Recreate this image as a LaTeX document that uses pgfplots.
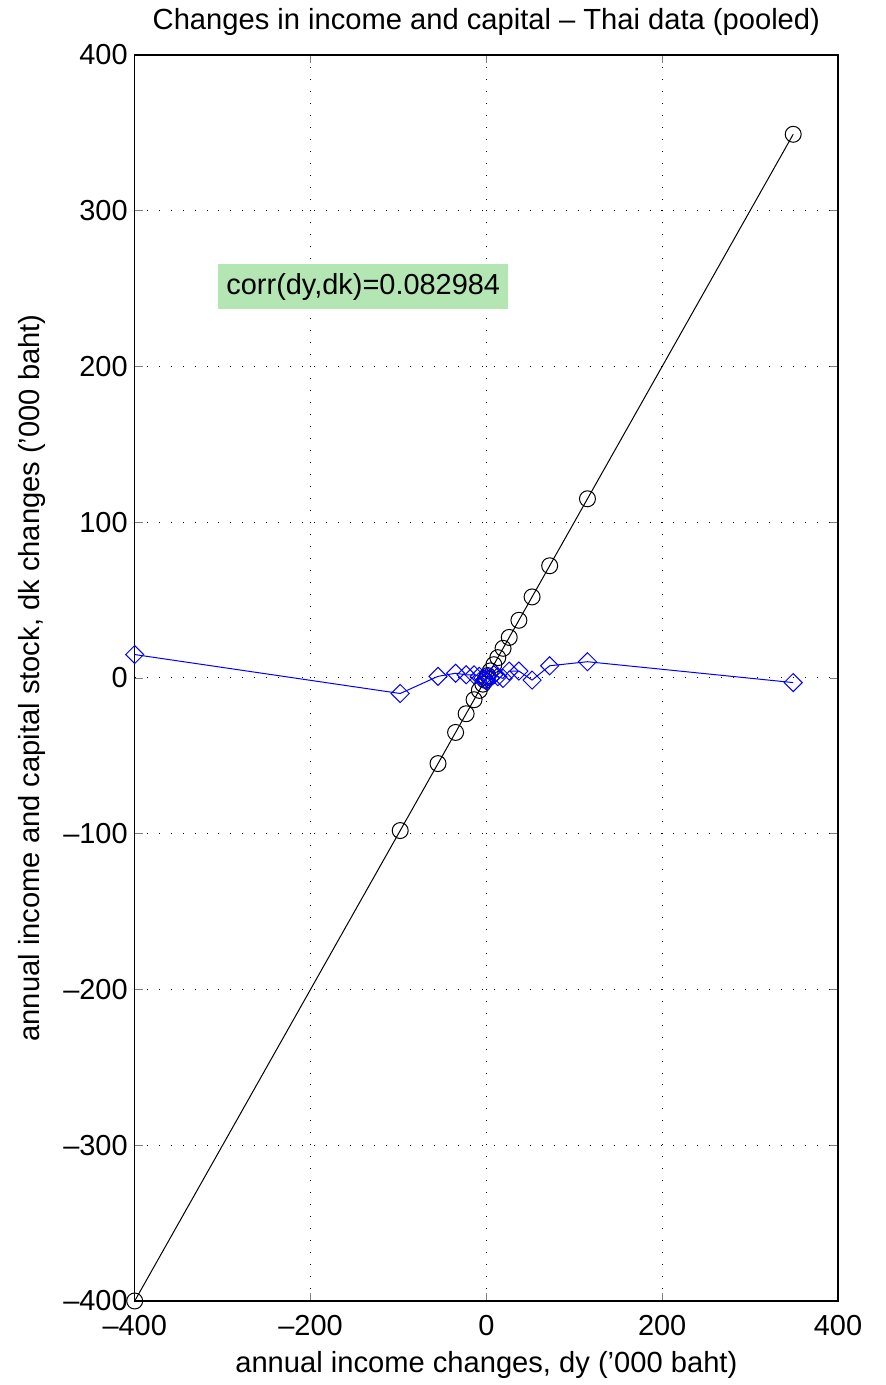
\documentclass[border=0pt]{standalone}
\usepackage{fontspec}
\setmainfont{Liberation Sans}
\usepackage{pgfplots}
\pgfplotsset{compat=1.18}
\definecolor{boxgreen}{RGB}{179,230,179}
\begin{document}
\begin{tikzpicture}
\begin{axis}[
  scale only axis, width=352.5pt, height=624.5pt,
  xmin=-400, xmax=400, ymin=-400, ymax=400,
  xtick={-400,-200,0,200,400},
  xticklabels={\textendash400,\textendash200,0,200,400},
  ytick={-400,-300,-200,-100,0,100,200,300,400},
  yticklabels={\textendash400,\textendash300,\textendash200,\textendash100,0,100,200,300,400},
  tick align=inside, major tick length=4pt, tick pos=both,
  xmajorgrids, ymajorgrids,
  grid style={black, dash pattern=on 0.5pt off 5.5pt, line width=0.5pt},
  tick label style={font=\fontsize{14.5}{16}\selectfont},
  xticklabel style={yshift=-3.5pt},
  label style={font=\fontsize{14.6}{17}\selectfont},
  xlabel style={yshift=-1pt},
  ylabel style={yshift=2pt},
  title style={font=\fontsize{14.6}{17}\selectfont, yshift=0pt},
  title={Changes in income and capital \textendash\ Thai data (pooled)},
  xlabel={annual income changes, dy ('000 baht)},
  ylabel={annual income and capital stock, dk changes ('000 baht)},
  axis line style={line width=0.8pt},
  clip=false,
]
\addplot[black, line width=0.5pt, mark=o, mark size=4pt, mark options={solid}] coordinates {
(-400,-400) (-98,-98) (-55,-55) (-35,-35) (-23,-23) (-14,-14) (-8,-8) (-4,-4) (-1.5,-1.5) (0,0) (1.5,1.5) (4.5,4.5) (8.5,8.5) (13,13) (19,19) (26,26) (37,37) (52,52) (72,72) (115,115) (349,349)
};
\addplot[blue, line width=0.5pt, mark=square, mark size=3.2pt, mark options={solid, rotate=45}] coordinates {
(-400,15) (-98,-10) (-55,1) (-35,3) (-23,2) (-14,2) (-8,1) (-4,0) (-1.5,-1) (0,-2) (1.5,1) (4.5,0) (8.5,2) (13,0.8) (19,-0.3) (26,4.4) (37,4.4) (52,-1.4) (72,7.8) (115,10.4) (349,-3)
};
\node[fill=boxgreen, inner xsep=4pt, minimum height=22.5pt, font=\fontsize{14.5}{16}\selectfont] at (axis cs:-140,251) {corr(dy,dk)=0.082984};
\coordinate (sw) at (rel axis cs:0,0);
\coordinate (ne) at (rel axis cs:1,1);
\end{axis}
\path ([xshift=-67.5pt,yshift=-40.5pt]sw) rectangle ([xshift=24pt,yshift=27.5pt]ne);
\end{tikzpicture}
\end{document}
